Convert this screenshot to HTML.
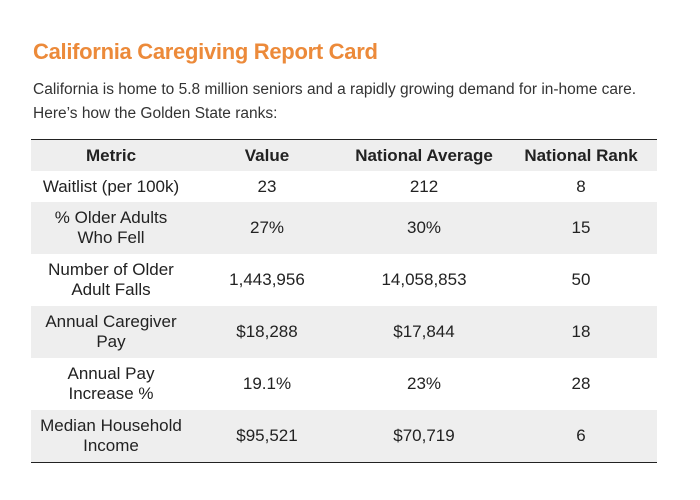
<!DOCTYPE html>
<html><head><meta charset="utf-8"><style>
body{margin:0;width:700px;height:500px;background:#fff;font-family:"Liberation Sans",sans-serif;position:relative;overflow:hidden}
h1{position:absolute;left:33px;top:39px;margin:0;font-size:22px;font-weight:bold;color:#ec8a3a;letter-spacing:-0.3px}
.sub{position:absolute;left:33px;top:78px;margin:0;font-size:15.5px;line-height:24px;color:#333;width:640px}
table{position:absolute;left:31px;top:139px;width:626px;border-collapse:collapse;border-top:1.5px solid #222;border-bottom:1.5px solid #222;font-size:17px;color:#222}
td,th{text-align:center;padding:0;line-height:20px}
th{height:31px;font-weight:bold}
tr.g{background:#eeeeee}
tr.s td{height:31px}
tr.d td{height:52px}
</style></head><body>
<h1>California Caregiving Report Card</h1>
<p class="sub">California is home to 5.8 million seniors and a rapidly growing demand for in-home care. Here’s how the Golden State ranks:</p>
<table>
<colgroup><col style="width:160px"><col style="width:152px"><col style="width:162px"><col style="width:152px"></colgroup>
<tr class="g"><th>Metric</th><th>Value</th><th>National Average</th><th>National Rank</th></tr>
<tr class="s"><td>Waitlist (per 100k)</td><td>23</td><td>212</td><td>8</td></tr>
<tr class="g d"><td>% Older Adults<br>Who Fell</td><td>27%</td><td>30%</td><td>15</td></tr>
<tr class="d"><td>Number of Older<br>Adult Falls</td><td>1,443,956</td><td>14,058,853</td><td>50</td></tr>
<tr class="g d"><td>Annual Caregiver<br>Pay</td><td>$18,288</td><td>$17,844</td><td>18</td></tr>
<tr class="d"><td>Annual Pay<br>Increase %</td><td>19.1%</td><td>23%</td><td>28</td></tr>
<tr class="g d"><td>Median Household<br>Income</td><td>$95,521</td><td>$70,719</td><td>6</td></tr>
</table>
</body></html>
